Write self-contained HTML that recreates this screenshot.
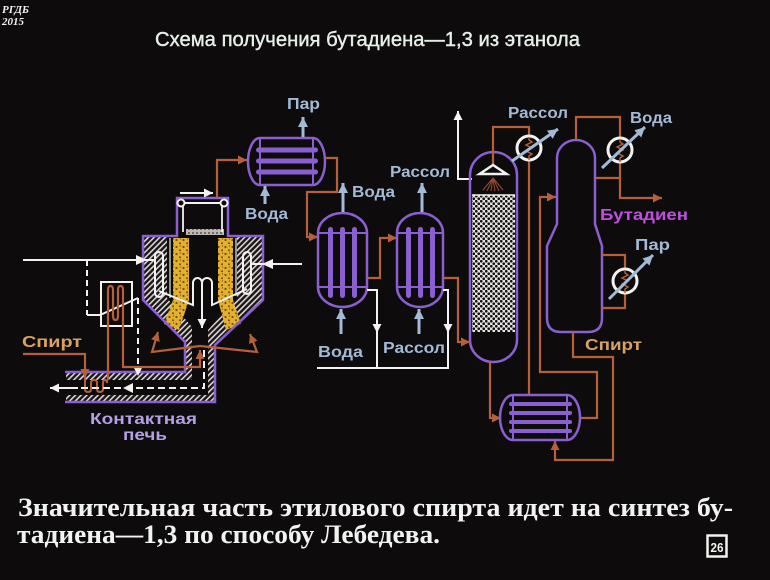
<!DOCTYPE html>
<html><head><meta charset="utf-8">
<style>
html,body{margin:0;padding:0;background:#0e0b0d;}
svg{display:block;}
</style></head><body>
<svg width="770" height="580" viewBox="0 0 770 580" xmlns="http://www.w3.org/2000/svg">
<defs>
 <pattern id="hatch" width="4" height="4" patternUnits="userSpaceOnUse" patternTransform="rotate(45)">
   <rect width="4" height="4" fill="#1a1517"/>
   <rect width="1.6" height="4" fill="#d9d5d2"/>
 </pattern>
 <pattern id="cat" width="7" height="7" patternUnits="userSpaceOnUse">
   <rect width="7" height="7" fill="#e2b12e"/>
   <circle cx="1.5" cy="2" r="1.1" fill="#7a4714"/>
   <circle cx="5" cy="5.2" r="1" fill="#7a4714"/>
   <circle cx="5.5" cy="1" r="0.7" fill="#9a6020"/>
 </pattern>
 <pattern id="pack" width="5" height="5" patternUnits="userSpaceOnUse">
   <rect width="5" height="5" fill="#e4e2e0"/>
   <circle cx="1.25" cy="1.25" r="1.35" fill="#141012"/>
   <circle cx="3.75" cy="3.75" r="1.35" fill="#141012"/>
 </pattern>
 <pattern id="dots" width="4" height="4" patternUnits="userSpaceOnUse">
   <rect width="4" height="4" fill="#bdb8b4"/>
   <circle cx="1" cy="1" r="0.9" fill="#3a3436"/>
 </pattern>
 <marker id="mw" viewBox="0 0 10 10" refX="10" refY="5" markerWidth="9" markerHeight="9" markerUnits="userSpaceOnUse" orient="auto"><path d="M0,0 L10,5 L0,10 Z" fill="#f2f2ee"/></marker>
 <marker id="mb" viewBox="0 0 10 10" refX="10" refY="5" markerWidth="9" markerHeight="9" markerUnits="userSpaceOnUse" orient="auto"><path d="M0,0 L10,5 L0,10 Z" fill="#b5603a"/></marker>
 <marker id="ml" viewBox="0 0 10 10" refX="10" refY="5" markerWidth="10" markerHeight="10" markerUnits="userSpaceOnUse" orient="auto"><path d="M0,0 L10,5 L0,10 Z" fill="#a3bad6"/></marker>
</defs>

<rect width="770" height="580" fill="#0e0b0d"/>

<!-- corner stamp -->
<text x="2" y="13" font-family="Liberation Serif, serif" font-style="italic" font-weight="bold" font-size="11" fill="#f2f2f2">РГДБ</text>
<text x="2" y="25" font-family="Liberation Serif, serif" font-style="italic" font-weight="bold" font-size="11" fill="#f2f2f2">2015</text>

<!-- title -->
<text x="155" y="46" font-family="Liberation Sans, sans-serif" font-size="20" fill="#e6efe8" stroke="#e6efe8" stroke-width="0.4" textLength="425" lengthAdjust="spacingAndGlyphs">Схема получения бутадиена—1,3 из этанола</text>

<!-- ================= FURNACE ================= -->
<polygon points="144,237 167,237 167,298 192,327 192,380 66,380 66,373 185,373 185,342 144,301" fill="url(#hatch)"/>
<polygon points="237,237 262,237 262,301 215,345 215,402 66,402 66,395 208,395 208,330 237,298" fill="url(#hatch)"/>
<polygon points="173,238 189,238 189,300 179,330 164,324 173,300" fill="url(#cat)"/>
<polygon points="218,238 233,238 233,300 241,324 226,330 218,300" fill="url(#cat)"/>
<line x1="170" y1="238" x2="170" y2="298" stroke="#e8e8e8" stroke-width="1.2"/>
<line x1="236" y1="238" x2="236" y2="296" stroke="#e8e8e8" stroke-width="1.2"/>
<rect x="186" y="229" width="38" height="6" fill="url(#dots)"/>
<path d="M65,372 H185 V342 L143,300 V236 H177 V198 H228 V236 H263 V300 L215,345 V402 H65" fill="none" stroke="#8a5fd0" stroke-width="2.5"/>
<line x1="181" y1="203" x2="224" y2="203" stroke="#f2f2ee" stroke-width="2"/>
<line x1="183" y1="206" x2="183" y2="232" stroke="#f2f2ee" stroke-width="1.8"/>
<line x1="222" y1="206" x2="222" y2="232" stroke="#f2f2ee" stroke-width="1.8"/>
<circle cx="181" cy="203" r="3.5" fill="#0e0b0d" stroke="#f2f2ee" stroke-width="2"/>
<circle cx="224" cy="203" r="3.5" fill="#0e0b0d" stroke="#f2f2ee" stroke-width="2"/>
<line x1="180" y1="193" x2="213" y2="193" stroke="#f2f2ee" stroke-width="2" marker-end="url(#mw)"/>
<path d="M217,198 V160 H247" fill="none" stroke="#b5603a" stroke-width="2.2" marker-end="url(#mb)"/>
<rect x="155" y="252" width="8" height="45" rx="4" fill="none" stroke="#f2f2ee" stroke-width="2"/>
<rect x="243" y="252" width="8" height="42" rx="4" fill="none" stroke="#f2f2ee" stroke-width="2"/>
<line x1="23" y1="260" x2="155" y2="260" stroke="#f2f2ee" stroke-width="2"/>
<polygon points="136,255 147,260 136,265" fill="#f2f2ee"/>
<line x1="302" y1="264" x2="251" y2="264" stroke="#f2f2ee" stroke-width="2"/>
<polygon points="273,259 262,264 273,269" fill="#f2f2ee"/>
<path d="M159,291 L193,305 V283 A4.5,5 0 0 1 202,283 A5,5 0 0 1 212,283 V305 L247,289" fill="none" stroke="#f2f2ee" stroke-width="2"/>
<line x1="202" y1="283" x2="202" y2="328" stroke="#f2f2ee" stroke-width="2" marker-end="url(#mw)"/>
<line x1="87" y1="260" x2="87" y2="315" stroke="#f2f2ee" stroke-width="2" stroke-dasharray="6,4"/>
<path d="M87,315 H100 L138,298" fill="none" stroke="#f2f2ee" stroke-width="2"/>
<line x1="138" y1="298" x2="138" y2="376" stroke="#f2f2ee" stroke-width="2" stroke-dasharray="6,4" marker-end="url(#mw)"/>
<rect x="101" y="282" width="31" height="44" fill="none" stroke="#f2f2ee" stroke-width="2"/>
<path d="M108,380 V290 q0,-4 2.5,-4 q2.5,0 2.5,4 v26 q0,4 2.5,4 q2.5,0 2.5,-4 v-26 q0,-4 2.5,-4 q2.5,0 2.5,4 V367 H200 V350" fill="none" stroke="#b5603a" stroke-width="2.2" marker-end="url(#mb)"/>
<path d="M200,346 L152,352 L158,332" fill="none" stroke="#b5603a" stroke-width="2.2" marker-end="url(#mb)"/>
<path d="M200,346 L257,352 L250,334" fill="none" stroke="#b5603a" stroke-width="2.2" marker-end="url(#mb)"/>
<path d="M23,354 H85 V378" fill="none" stroke="#b5603a" stroke-width="2.2" marker-end="url(#mb)"/>
<path d="M85,378 V389 q0,3 3,3 q3,0 3,-3 v-6 q0,-3 3,-3 q3,0 3,3 v6 q0,3 3,3 q3,0 3,-3 v-6 q0,-3 2,-3 q2,0 2,3 V380" fill="none" stroke="#b5603a" stroke-width="2"/>
<path d="M204,350 V388 H75" fill="none" stroke="#f2f2ee" stroke-width="2" stroke-dasharray="7,4"/>
<line x1="78" y1="388" x2="50" y2="388" stroke="#f2f2ee" stroke-width="2" marker-end="url(#mw)"/>
<polygon points="133,383 123,388 133,393" fill="#f2f2ee"/>

<!-- ================= HEAT EXCHANGERS ================= -->
<path d="M260,138 H313 A12,23.5 0 0 1 313,185 H260 A12,23.5 0 0 1 260,138 Z" fill="none" stroke="#8a5fd0" stroke-width="2.5"/>
<line x1="260" y1="138" x2="260" y2="185" stroke="#8a5fd0" stroke-width="2"/>
<line x1="313" y1="138" x2="313" y2="185" stroke="#8a5fd0" stroke-width="2"/>
<rect x="256" y="147.5" width="62" height="5" rx="2.5" fill="#8a5fd0"/>
<rect x="256" y="158.5" width="62" height="5" rx="2.5" fill="#8a5fd0"/>
<rect x="256" y="169.5" width="62" height="5" rx="2.5" fill="#8a5fd0"/>
<path d="M325,158 H337 V192 H307 V237 H318" fill="none" stroke="#b5603a" stroke-width="2.2" marker-end="url(#mb)"/>

<path d="M318,233 A24.5,20 0 0 1 367,233 V287 A24.5,20 0 0 1 318,287 Z" fill="none" stroke="#8a5fd0" stroke-width="2.5"/>
<line x1="318" y1="233" x2="367" y2="233" stroke="#8a5fd0" stroke-width="2"/>
<line x1="318" y1="287" x2="367" y2="287" stroke="#8a5fd0" stroke-width="2"/>
<rect x="328" y="227" width="5" height="71" rx="2.5" fill="#8a5fd0"/>
<rect x="340" y="227" width="5" height="71" rx="2.5" fill="#8a5fd0"/>
<rect x="352" y="227" width="5" height="71" rx="2.5" fill="#8a5fd0"/>
<path d="M367,278 H380 V238 H397" fill="none" stroke="#b5603a" stroke-width="2.2" marker-end="url(#mb)"/>

<path d="M397,233 A23,20 0 0 1 443,233 V287 A23,20 0 0 1 397,287 Z" fill="none" stroke="#8a5fd0" stroke-width="2.5"/>
<line x1="397" y1="233" x2="443" y2="233" stroke="#8a5fd0" stroke-width="2"/>
<line x1="397" y1="287" x2="443" y2="287" stroke="#8a5fd0" stroke-width="2"/>
<rect x="406" y="227" width="5" height="71" rx="2.5" fill="#8a5fd0"/>
<rect x="418" y="227" width="5" height="71" rx="2.5" fill="#8a5fd0"/>
<rect x="430" y="227" width="5" height="71" rx="2.5" fill="#8a5fd0"/>
<path d="M443,278 H458 V342 H470" fill="none" stroke="#b5603a" stroke-width="2.2" marker-end="url(#mb)"/>

<path d="M367,290 H377 V333" fill="none" stroke="#f2f2ee" stroke-width="2" marker-end="url(#mw)"/>
<line x1="377" y1="325" x2="377" y2="368" stroke="#f2f2ee" stroke-width="2"/>
<path d="M443,290 H448 V333" fill="none" stroke="#f2f2ee" stroke-width="2" marker-end="url(#mw)"/>
<line x1="448" y1="325" x2="448" y2="368" stroke="#f2f2ee" stroke-width="2"/>
<line x1="317" y1="368" x2="449" y2="368" stroke="#f2f2ee" stroke-width="2"/>

<line x1="303" y1="137" x2="303" y2="117" stroke="#a3bad6" stroke-width="3" marker-end="url(#ml)"/>
<line x1="265" y1="204" x2="265" y2="186" stroke="#a3bad6" stroke-width="3" marker-end="url(#ml)"/>
<line x1="343" y1="212" x2="343" y2="183" stroke="#a3bad6" stroke-width="3" marker-end="url(#ml)"/>
<line x1="341" y1="334" x2="341" y2="309" stroke="#a3bad6" stroke-width="3" marker-end="url(#ml)"/>
<line x1="422" y1="212" x2="422" y2="183" stroke="#a3bad6" stroke-width="3" marker-end="url(#ml)"/>
<line x1="419" y1="334" x2="419" y2="309" stroke="#a3bad6" stroke-width="3" marker-end="url(#ml)"/>

<!-- ================= ABSORBER COLUMN ================= -->
<path d="M472,179 H458 V111" fill="none" stroke="#f2f2ee" stroke-width="2" marker-end="url(#mw)"/>
<rect x="472" y="195" width="43" height="137" fill="url(#pack)"/>
<line x1="472" y1="195" x2="515" y2="195" stroke="#f2f2ee" stroke-width="1.5"/>
<path d="M470,175 A23.5,23 0 0 1 517,175 V340 A23.5,22 0 0 1 470,340 Z" fill="none" stroke="#8a5fd0" stroke-width="2.5"/>
<g stroke="#9a4a30" stroke-width="1">
 <line x1="493" y1="178" x2="483" y2="190"/>
 <line x1="493" y1="178" x2="487" y2="191"/>
 <line x1="493" y1="178" x2="491" y2="191"/>
 <line x1="493" y1="178" x2="495" y2="191"/>
 <line x1="493" y1="178" x2="499" y2="191"/>
 <line x1="493" y1="178" x2="503" y2="190"/>
</g>
<path d="M493,164 V127 H529 V136" fill="none" stroke="#b5603a" stroke-width="2.2"/>
<polygon points="493,165 479.5,174 506.5,174" fill="none" stroke="#f2f2ee" stroke-width="2.5"/>
<line x1="529" y1="160" x2="529" y2="396" stroke="#b5603a" stroke-width="2.2"/>
<circle cx="529" cy="148" r="12" fill="#0e0b0d" stroke="#f2f2ee" stroke-width="3"/>
<polyline points="529,137 529,140 532,142 526,145 532,148 526,151 532,154 529,156 529,160" fill="none" stroke="#b5603a" stroke-width="1.4"/>
<line x1="512" y1="161" x2="558" y2="129" stroke="#a3bad6" stroke-width="3" marker-end="url(#ml)"/>
<path d="M490,362 V418 H501" fill="none" stroke="#b5603a" stroke-width="2.2" marker-end="url(#mb)"/>

<!-- ================= STRIPPER COLUMN ================= -->
<path d="M557,158 A19,18 0 0 1 595,158 V224 L602,246 V318 Q602,332 588,332 H561 Q547,332 547,318 V246 L557,224 Z" fill="none" stroke="#8a5fd0" stroke-width="2.5"/>
<path d="M576,140 V117 H620 V138" fill="none" stroke="#b5603a" stroke-width="2.2"/>
<path d="M620,162 V178 H596" fill="none" stroke="#b5603a" stroke-width="2.2"/>
<path d="M620,178 V198 H662" fill="none" stroke="#b5603a" stroke-width="2.2" marker-end="url(#mb)"/>
<circle cx="620" cy="150" r="12" fill="#0e0b0d" stroke="#f2f2ee" stroke-width="3"/>
<polyline points="620,139 620,142 623,144 617,147 623,150 617,153 623,156 620,158 620,162" fill="none" stroke="#b5603a" stroke-width="1.4"/>
<line x1="602" y1="168" x2="645" y2="127" stroke="#a3bad6" stroke-width="3" marker-end="url(#ml)"/>
<path d="M602,255 H625 V269" fill="none" stroke="#b5603a" stroke-width="2.2"/>
<path d="M625,293 V308 H602" fill="none" stroke="#b5603a" stroke-width="2.2"/>
<circle cx="625" cy="281" r="12" fill="#0e0b0d" stroke="#f2f2ee" stroke-width="3"/>
<polyline points="625,270 625,273 628,275 622,278 628,281 622,284 628,287 625,289 625,293" fill="none" stroke="#b5603a" stroke-width="1.4"/>
<line x1="609" y1="299" x2="653" y2="255" stroke="#a3bad6" stroke-width="3" marker-end="url(#ml)"/>
<path d="M580,418 H597 V372 H540 V197 H556" fill="none" stroke="#b5603a" stroke-width="2.2" marker-end="url(#mb)"/>
<path d="M573,332 V357 H613 V460 H555 V441" fill="none" stroke="#b5603a" stroke-width="2.2" marker-end="url(#mb)"/>

<path d="M513,395 H567 A13,22.5 0 0 1 567,440 H513 A13,22.5 0 0 1 513,395 Z" fill="none" stroke="#8a5fd0" stroke-width="2.5"/>
<line x1="513" y1="395" x2="513" y2="440" stroke="#8a5fd0" stroke-width="2"/>
<line x1="567" y1="395" x2="567" y2="440" stroke="#8a5fd0" stroke-width="2"/>
<rect x="509" y="402" width="63" height="4" rx="2" fill="#8a5fd0"/>
<rect x="509" y="411" width="63" height="4" rx="2" fill="#8a5fd0"/>
<rect x="509" y="420" width="63" height="4" rx="2" fill="#8a5fd0"/>
<rect x="509" y="429" width="63" height="4" rx="2" fill="#8a5fd0"/>

<!-- ================= LABELS ================= -->
<g font-family="Liberation Sans, sans-serif" font-weight="bold" font-size="16">
 <text x="287" y="109" fill="#a3bad6" textLength="33" lengthAdjust="spacingAndGlyphs">Пар</text>
 <text x="245" y="219" fill="#a3bad6" textLength="43" lengthAdjust="spacingAndGlyphs">Вода</text>
 <text x="352" y="197" fill="#a3bad6" textLength="43" lengthAdjust="spacingAndGlyphs">Вода</text>
 <text x="390" y="177" fill="#a3bad6" textLength="60" lengthAdjust="spacingAndGlyphs">Рассол</text>
 <text x="318" y="357" fill="#a3bad6" textLength="45" lengthAdjust="spacingAndGlyphs">Вода</text>
 <text x="383" y="353" fill="#a3bad6" textLength="62" lengthAdjust="spacingAndGlyphs">Рассол</text>
 <text x="508" y="118" fill="#a3bad6" textLength="60" lengthAdjust="spacingAndGlyphs">Рассол</text>
 <text x="630" y="123" fill="#a3bad6" textLength="42" lengthAdjust="spacingAndGlyphs">Вода</text>
 <text x="600" y="220" fill="#c04fe0" textLength="88" lengthAdjust="spacingAndGlyphs">Бутадиен</text>
 <text x="635" y="250" fill="#a3bad6" textLength="35" lengthAdjust="spacingAndGlyphs">Пар</text>
 <text x="585" y="350" fill="#d9a35f" textLength="57" lengthAdjust="spacingAndGlyphs">Спирт</text>
 <text x="22" y="347" fill="#d9a35f" textLength="60" lengthAdjust="spacingAndGlyphs">Спирт</text>
 <text x="90" y="424" fill="#b59ee6" textLength="107" lengthAdjust="spacingAndGlyphs">Контактная</text>
 <text x="123" y="440" fill="#b59ee6" textLength="44" lengthAdjust="spacingAndGlyphs">печь</text>
</g>

<!-- bottom caption -->
<text x="18" y="516" font-family="Liberation Serif, serif" font-weight="bold" font-size="26" fill="#f0f3f0" textLength="715" lengthAdjust="spacingAndGlyphs">Значительная часть этилового спирта идет на синтез бу-</text>
<text x="17" y="543" font-family="Liberation Serif, serif" font-weight="bold" font-size="26" fill="#f0f3f0" textLength="423" lengthAdjust="spacingAndGlyphs">тадиена—1,3 по способу Лебедева.</text>

<!-- page number -->
<rect x="707.5" y="535.5" width="19" height="21" fill="#0e0b0d" stroke="#f2f2ee" stroke-width="2.5"/>
<text x="717" y="552" text-anchor="middle" font-family="Liberation Sans, sans-serif" font-weight="bold" font-size="13" fill="#f2f2ee" textLength="13" lengthAdjust="spacingAndGlyphs">26</text>
</svg>
</body></html>
